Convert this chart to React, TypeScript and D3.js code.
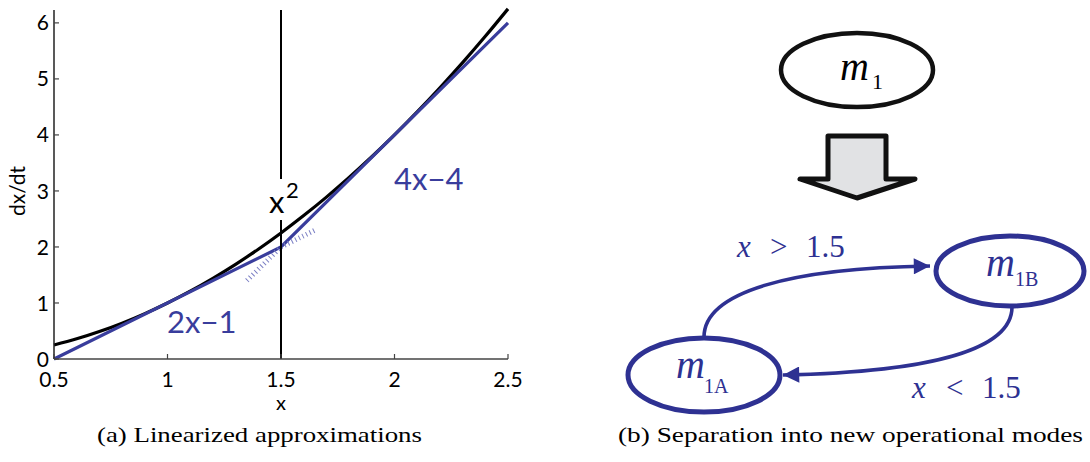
import React from 'react'
import * as d3 from 'd3'

// readings taken off the reference plot
const X_TICKS = [0.5, 1, 1.5, 2, 2.5]
const X_TICK_LABELS = ['0.5', '1', '1.5', '2', '2.5']
const Y_TICKS = [0, 1, 2, 3, 4, 5, 6]
const CURVE_X = [0.5, 0.6, 0.7, 0.8, 0.9, 1, 1.1, 1.2, 1.3, 1.4, 1.5, 1.6, 1.7, 1.8, 1.9, 2, 2.1, 2.2, 2.3, 2.4, 2.5]
const CURVE_Y = [0.25, 0.36, 0.49, 0.64, 0.81, 1, 1.21, 1.44, 1.69, 1.96, 2.25, 2.56, 2.89, 3.24, 3.61, 4, 4.41, 4.84, 5.29, 5.76, 6.25]
const LIN_X = [0.5, 1.5, 2.5]
const LIN_Y = [0, 2, 6]
const EXT_A_X = [1.5, 1.65]
const EXT_A_Y = [2, 2.3]
const EXT_B_X = [1.35, 1.5]
const EXT_B_Y = [1.4, 2]
const SWITCH_X = 1.5

const BLUE = '#393d9c'
const DBLUE = '#2e3192'
const SANS = "Lato, 'Liberation Sans', sans-serif"
const SERIF = "'Liberation Serif', 'Times New Roman', serif"

const zip = (xs: number[], ys: number[]): [number, number][] => xs.map((x, i) => [x, ys[i]])

export default function App() {
  const x = d3.scaleLinear().domain([0.5, 2.5]).range([54, 508])
  const y = d3.scaleLinear().domain([0, 6.23]).range([359, 10])
  const line = d3.line<[number, number]>().x(d => x(d[0])).y(d => y(d[1]))
  const curve = d3.line<[number, number]>().x(d => x(d[0])).y(d => y(d[1])).curve(d3.curveCatmullRom)

  return (
    <svg width={1090} height={462} style={{ position: 'absolute', left: 0, top: 0, background: '#fff' }}>
      <defs>
        <marker id="ah" viewBox="0 0 10 10" refX="10" refY="5" markerWidth="6.5" markerHeight="4.5"
          markerUnits="strokeWidth" orient="auto">
          <path d="M0,0 L10,5 L0,10 z" fill={DBLUE} />
        </marker>
      </defs>

      {/* left panel */}
      <g fontFamily={SANS}>
        <path d={curve(zip(CURVE_X, CURVE_Y)) || ''} fill="none" stroke="#000" strokeWidth={3.2} />
        <path d={line(zip(LIN_X, LIN_Y)) || ''} fill="none" stroke={BLUE} strokeWidth={3.2} />
        <path d={line(zip(EXT_A_X, EXT_A_Y)) || ''} fill="none" stroke="#7a7ec4" strokeWidth={5} strokeDasharray="1 3" />
        <path d={line(zip(EXT_B_X, EXT_B_Y)) || ''} fill="none" stroke="#7a7ec4" strokeWidth={5} strokeDasharray="1 3" />

        <line x1={x(SWITCH_X)} x2={x(SWITCH_X)} y1={10} y2={179} stroke="#000" strokeWidth={2} />
        <line x1={x(SWITCH_X)} x2={x(SWITCH_X)} y1={220} y2={y(0)} stroke="#000" strokeWidth={2} />
        <text x={269} y={213} fontSize={31}>x</text>
        <text x={286} y={198} fontSize={22}>2</text>

        <text x={167} y={333} fontSize={31} fill={BLUE}>2x−1</text>
        <text x={394} y={190} fontSize={31} fill={BLUE}>4x−4</text>

        <line x1={x(0.5)} x2={x(2.5)} y1={y(0)} y2={y(0)} stroke="#444" strokeWidth={1.5} />
        <line x1={x(0.5)} x2={x(0.5)} y1={y(0)} y2={10} stroke="#222" strokeWidth={1.5} />
        {X_TICKS.map((t, i) => (
          <g key={t}>
            <line x1={x(t)} x2={x(t)} y1={y(0)} y2={y(0) - 5} stroke="#444" strokeWidth={1.2} />
            <text x={x(t)} y={387} textAnchor="middle" fontSize={21}>{X_TICK_LABELS[i]}</text>
          </g>
        ))}
        {Y_TICKS.map(t => (
          <g key={t}>
            <line x1={x(0.5)} x2={x(0.5) + 5} y1={y(t)} y2={y(t)} stroke="#444" strokeWidth={1.2} />
            <text x={49} y={y(t)} dy="0.36em" textAnchor="end" fontSize={21}>{t}</text>
          </g>
        ))}
        <text x={x(1.5)} y={410} textAnchor="middle" fontSize={20}>x</text>
        <text transform="translate(25,191) rotate(-90)" textAnchor="middle" fontSize={21}>dx/dt</text>
      </g>

      {/* right panel */}
      <g fontFamily={SERIF}>
        <ellipse cx={857} cy={70} rx={76} ry={37} fill="none" stroke="#111" strokeWidth={4.5} />
        <text x={840} y={80} fontSize={40} fontStyle="italic">m</text>
        <text x={872} y={89} fontSize={22}>1</text>

        <path d="M828,136 L886,136 L886,179 L915,179 L857,198 L800,179 L828,179 Z"
          fill="#e1e2e4" stroke="#111" strokeWidth={5} strokeLinejoin="round" />

        <path d="M704,337 C704,292 790,268 930,266" fill="none" stroke={DBLUE} strokeWidth={3.6} markerEnd="url(#ah)" />
        <path d="M1012,307 C1012,350 930,372 783,375" fill="none" stroke={DBLUE} strokeWidth={3.6} markerEnd="url(#ah)" />

        <ellipse cx={1010} cy={271} rx={74} ry={35} fill="#fff" stroke={DBLUE} strokeWidth={5} />
        <ellipse cx={704} cy={375} rx={76} ry={37} fill="#fff" stroke={DBLUE} strokeWidth={5} />

        <text x={986} y={276} fontSize={40} fontStyle="italic" fill={DBLUE}>m</text>
        <text x={1015} y={286} fontSize={20} fill={DBLUE}>1B</text>
        <text x={676} y={378} fontSize={40} fontStyle="italic" fill={DBLUE}>m</text>
        <text x={704} y={393} fontSize={20} fill={DBLUE}>1A</text>

        <g fill={DBLUE} fontSize={31}>
          <text x={737} y={257} fontStyle="italic">x</text>
          <text x={770} y={257}>&gt;</text>
          <text x={806} y={257}>1.5</text>
          <text x={912} y={398} fontStyle="italic">x</text>
          <text x={946} y={398}>&lt;</text>
          <text x={982} y={398}>1.5</text>
        </g>

        {/* captions */}
        <text x={97} y={442} fontSize={21} textLength={325} lengthAdjust="spacingAndGlyphs">(a) Linearized approximations</text>
        <text x={618} y={442} fontSize={21} textLength={465} lengthAdjust="spacingAndGlyphs">(b) Separation into new operational modes</text>
      </g>
    </svg>
  )
}
